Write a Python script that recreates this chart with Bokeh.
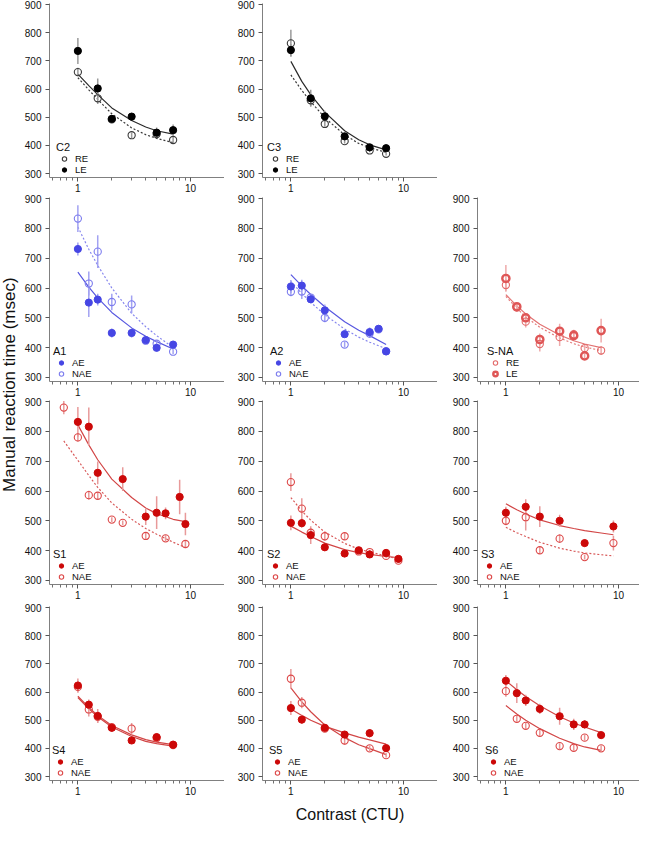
import math
from bokeh.plotting import figure
from bokeh.models import Range1d, FixedTicker, Legend, LegendItem, PrintfTickFormatter
from bokeh.layouts import row, column
from bokeh.embed import file_html
from bokeh.resources import INLINE
from bokeh.core.properties import value

FONT = "Liberation Sans"

# ---------------- data ----------------
FIT_X = [1, 1.25, 1.5, 2, 3, 4, 5, 7]
FIT_X9 = [1, 1.25, 1.5, 2, 3, 4, 5, 7, 9]

C2_X = [1, 1.5, 2, 3, 5, 7]
C2_RE = [660, 567, 492, 436, 440, 419]
C2_RE_ERR = [15, 20, 8, 10, 10, 12]
C2_LE = [735, 602, 494, 502, 445, 454]
C2_LE_ERR = [46, 35, 12, 10, 18, 20]
C2_RE_FIT = [640, 597, 563, 512, 462, 438, 425, 410]
C2_LE_FIT = [653, 612, 580, 533, 488, 465, 452, 440]

C3_X = [1, 1.5, 2, 3, 5, 7]
C3_RE = [762, 560, 476, 415, 382, 370]
C3_RE_ERR = [48, 20, 10, 8, 6, 6]
C3_LE = [738, 567, 503, 432, 393, 390]
C3_LE_ERR = [22, 30, 20, 10, 8, 8]
C3_RE_FIT = [650, 595, 555, 498, 437, 407, 392, 375]
C3_LE_FIT = [698, 627, 580, 518, 452, 420, 402, 384]

A1_X = [1, 1.25, 1.5, 2, 3, 4, 5, 7]
A1_AE = [731, 551, 561, 449, 449, 425, 399, 410]
A1_AE_ERR = [22, 48, 20, 15, 15, 10, 10, 10]
A1_NAE = [833, 615, 722, 553, 545, 423, 413, 386]
A1_NAE_ERR = [45, 40, 55, 28, 30, 8, 8, 8]
A1_AE_FIT = [653, 603, 567, 518, 466, 438, 420, 395]
A1_NAE_FIT = [805, 730, 676, 600, 515, 470, 440, 400]

A2_X = [1, 1.25, 1.5, 2, 3, 5, 6, 7]
A2_AE = [605, 608, 562, 525, 445, 452, 463, 387]
A2_AE_ERR = [22, 20, 12, 20, 10, 15, 8, 8]
A2_NAE = [587, 588, 568, 500, 410, 447, 461, 388]
A2_NAE_ERR = [15, 25, 10, 15, 10, 15, 8, 8]
A2_AE_FIT = [645, 607, 578, 537, 487, 458, 440, 410]
A2_NAE_FIT = [622, 582, 552, 510, 462, 435, 418, 396]

SNA_X = [1, 1.25, 1.5, 2, 3, 4, 5, 7]
SNA_RE = [610, 535, 487, 412, 435, 445, 398, 390]
SNA_RE_ERR = [20, 15, 20, 25, 30, 15, 12, 15]
SNA_LE = [632, 537, 500, 427, 455, 440, 372, 457]
SNA_LE_ERR = [45, 12, 15, 20, 25, 12, 8, 40]
SNA_RE_FIT = [572, 532, 503, 468, 432, 413, 402, 390]
SNA_LE_FIT = [578, 540, 513, 478, 442, 423, 412, 400]

S1_AE_X = [1, 1.25, 1.5, 2.5, 4, 5, 6, 8, 9]
S1_AE = [832, 816, 661, 640, 514, 527, 525, 580, 489]
S1_AE_ERR = [50, 64, 38, 40, 28, 55, 20, 58, 38]
S1_NAE_X = [0.75, 1, 1.25, 1.5, 2, 2.5, 4, 6, 9]
S1_NAE = [880, 780, 586, 584, 504, 493, 449, 441, 422]
S1_NAE_ERR = [22, 15, 15, 12, 8, 8, 12, 10, 12]
S1_NAE_FIT_X = [0.75, 1, 1.25, 1.5, 2, 3, 4, 5, 7, 9]
S1_AE_FIT = [822, 755, 705, 640, 578, 543, 524, 505, 497]
S1_NAE_FIT = [768, 703, 652, 612, 560, 505, 474, 455, 428, 410]

S2_X = [1, 1.25, 1.5, 2, 3, 4, 5, 7, 9]
S2_AE = [493, 492, 452, 411, 390, 401, 387, 392, 372]
S2_AE_ERR = [25, 15, 30, 12, 8, 10, 8, 8, 8]
S2_NAE = [630, 541, 460, 448, 448, 397, 395, 382, 366]
S2_NAE_ERR = [30, 35, 15, 15, 12, 10, 8, 8, 8]
S2_AE_FIT = [482, 462, 447, 425, 403, 393, 387, 380, 376]
S2_NAE_FIT = [578, 533, 502, 462, 424, 405, 395, 382, 372]

S3_X = [1, 1.5, 2, 3, 5, 9]
S3_AE = [527, 547, 514, 500, 425, 481]
S3_AE_ERR = [20, 25, 35, 20, 12, 20]
S3_NAE = [500, 512, 401, 440, 378, 425]
S3_NAE_ERR = [15, 45, 12, 15, 8, 25]
S3_AE_FIT = [557, 537, 523, 503, 484, 474, 467, 459, 453]
S3_NAE_FIT = [478, 460, 447, 428, 408, 398, 392, 386, 382]

S4_X = [1, 1.25, 1.5, 2, 3, 5, 7]
S4_AE = [623, 555, 515, 473, 428, 440, 413]
S4_AE_ERR = [25, 18, 25, 12, 8, 12, 8]
S4_NAE = [618, 538, 512, 475, 470, 437, 412]
S4_NAE_ERR = [20, 25, 20, 10, 20, 10, 8]
S4_AE_FIT = [580, 540, 512, 476, 442, 425, 417, 408]
S4_NAE_FIT = [585, 545, 517, 481, 448, 431, 422, 413]

S5_X = [1, 1.25, 2, 3, 5, 7]
S5_AE = [543, 502, 473, 449, 454, 401]
S5_AE_ERR = [25, 15, 10, 12, 15, 8]
S5_NAE = [647, 562, 470, 428, 400, 376]
S5_NAE_ERR = [35, 20, 10, 15, 10, 8]
S5_AE_FIT = [540, 517, 500, 478, 455, 440, 430, 415]
S5_NAE_FIT = [615, 565, 530, 483, 438, 413, 399, 378]

S6_X = [1, 1.25, 1.5, 2, 3, 4, 5, 7]
S6_AE = [640, 596, 570, 540, 514, 485, 485, 447]
S6_AE_ERR = [20, 35, 20, 18, 30, 20, 15, 8]
S6_NAE = [603, 505, 480, 455, 408, 402, 438, 400]
S6_NAE_ERR = [20, 10, 10, 12, 10, 10, 10, 10]
S6_AE_FIT = [640, 608, 584, 551, 512, 490, 476, 456]
S6_NAE_FIT = [552, 522, 500, 470, 436, 417, 405, 393]

Y_TICKS = [300, 400, 500, 600, 700, 800, 900]
X_TICKS = [1, 10]
X_MINOR = [0.6, 0.7, 0.8, 0.9, 2, 3, 4, 5, 6, 7, 8, 9, 20]

SCHEMES = {
    "black": dict(fill="#000000", open="#3a3a3a", err="#9a9a9a", solid="#2a2a2a", dash="#3a3a3a"),
    "blue": dict(fill="#4646e4", open="#7c7cee", err="#a2a2f2", solid="#5858e0", dash="#8686ee"),
    "pale": dict(fill="#df5656", open="#e36a6a", err="#eeaaaa", solid="#e27272", dash="#e47a7a"),
    "red": dict(fill="#cc0808", open="#dd4848", err="#e89a9a", solid="#d24646", dash="#d85a5a"),
}

# (label, x, y, err, marker style, fit x, fit y, fit style)
PANELS = [
    dict(name="C2", r=0, c=0, scheme="black", ldx=6.7, series=[
        ("RE", C2_X, C2_RE, C2_RE_ERR, "open", FIT_X, C2_RE_FIT, "dash"),
        ("LE", C2_X, C2_LE, C2_LE_ERR, "fill", FIT_X, C2_LE_FIT, "solid")]),
    dict(name="C3", r=0, c=1, scheme="black", ldx=5, series=[
        ("RE", C3_X, C3_RE, C3_RE_ERR, "open", FIT_X, C3_RE_FIT, "dash"),
        ("LE", C3_X, C3_LE, C3_LE_ERR, "fill", FIT_X, C3_LE_FIT, "solid")]),
    dict(name="A1", r=1, c=0, scheme="blue", ldx=4, series=[
        ("AE", A1_X, A1_AE, A1_AE_ERR, "fill", FIT_X, A1_AE_FIT, "solid"),
        ("NAE", A1_X, A1_NAE, A1_NAE_ERR, "open", FIT_X, A1_NAE_FIT, "dash")]),
    dict(name="A2", r=1, c=1, scheme="blue", ldx=7.7, series=[
        ("AE", A2_X, A2_AE, A2_AE_ERR, "fill", FIT_X, A2_AE_FIT, "solid"),
        ("NAE", A2_X, A2_NAE, A2_NAE_ERR, "open", FIT_X, A2_NAE_FIT, "dash")]),
    dict(name="S-NA", r=1, c=2, scheme="pale", ldx=10, series=[
        ("RE", SNA_X, SNA_RE, SNA_RE_ERR, "open", FIT_X, SNA_RE_FIT, "dash"),
        ("LE", SNA_X, SNA_LE, SNA_LE_ERR, "ring", FIT_X, SNA_LE_FIT, "solid")]),
    dict(name="S1", r=2, c=0, scheme="red", ldx=4, series=[
        ("AE", S1_AE_X, S1_AE, S1_AE_ERR, "fill", FIT_X9, S1_AE_FIT, "solid"),
        ("NAE", S1_NAE_X, S1_NAE, S1_NAE_ERR, "open", S1_NAE_FIT_X, S1_NAE_FIT, "dash")]),
    dict(name="S2", r=2, c=1, scheme="red", ldx=5, series=[
        ("AE", S2_X, S2_AE, S2_AE_ERR, "fill", FIT_X9, S2_AE_FIT, "solid"),
        ("NAE", S2_X, S2_NAE, S2_NAE_ERR, "open", FIT_X9, S2_NAE_FIT, "dash")]),
    dict(name="S3", r=2, c=2, scheme="red", ldx=3.7, series=[
        ("AE", S3_X, S3_AE, S3_AE_ERR, "fill", FIT_X9, S3_AE_FIT, "solid"),
        ("NAE", S3_X, S3_NAE, S3_NAE_ERR, "open", FIT_X9, S3_NAE_FIT, "dash")]),
    dict(name="S4", r=3, c=0, scheme="red", ldx=3.3, series=[
        ("AE", S4_X, S4_AE, S4_AE_ERR, "fill", FIT_X, S4_AE_FIT, "solid"),
        ("NAE", S4_X, S4_NAE, S4_NAE_ERR, "open", FIT_X, S4_NAE_FIT, "solid")]),
    dict(name="S5", r=3, c=1, scheme="red", ldx=6.7, series=[
        ("AE", S5_X, S5_AE, S5_AE_ERR, "fill", FIT_X, S5_AE_FIT, "solid"),
        ("NAE", S5_X, S5_NAE, S5_NAE_ERR, "open", FIT_X, S5_NAE_FIT, "solid")]),
    dict(name="S6", r=3, c=2, scheme="red", ldx=7.7, series=[
        ("AE", S6_X, S6_AE, S6_AE_ERR, "fill", FIT_X, S6_AE_FIT, "solid"),
        ("NAE", S6_X, S6_NAE, S6_NAE_ERR, "open", FIT_X, S6_NAE_FIT, "solid")]),
]

# ---------------- layout geometry ----------------
K = 0.98
REF_900 = [4.7, 202.7, 409.7, 619.0]
REF_300 = [177.7, 385.0, 592.3, 792.0]
Y0, Y1 = 286, 914
X0, X1 = 0.56, 20.0
TOPS, FRAMES = [], []
for a, b in zip(REF_900, REF_300):
    s = (b - a) * K / 600.0
    TOPS.append(round(8 + a * K - (Y1 - 900) * s))
    FRAMES.append(round((Y1 - Y0) * s))
TOPS[0] = 8
BOTTOMS = [22, 22, 22, 45]
HEIGHTS = [f + b for f, b in zip(FRAMES, BOTTOMS)]

FRAME_W = 175
COL_LEFT = [29, 38, 40]
COL_FRAME = [175, 175, 162]
DEC = FRAME_W / math.log10(X1 / X0)
COL_XEND = [X1, X1, 10 ** (math.log10(X0) + COL_FRAME[2] / DEC)]
LEG_Y = 2


def make_fig(r, c):
    p = figure(width=COL_LEFT[c] + COL_FRAME[c], height=HEIGHTS[r],
               x_axis_type="log", x_range=Range1d(X0, COL_XEND[c]), y_range=Range1d(Y0, Y1),
               output_backend="svg", toolbar_location=None,
               min_border_left=COL_LEFT[c], min_border_right=0,
               min_border_top=0, min_border_bottom=BOTTOMS[r])
    p.grid.visible = False
    p.outline_line_color = None
    p.background_fill_color = "white"
    p.border_fill_color = "white"
    for ax in (p.xaxis[0], p.yaxis[0]):
        ax.axis_line_color = "#808080"
        ax.major_tick_line_color = "#555555"
        ax.minor_tick_line_color = "#707070"
        ax.major_tick_in = 0
        ax.major_tick_out = 4
        ax.minor_tick_in = 0
        ax.major_label_text_font = FONT
        ax.major_label_text_font_size = "10px"
        ax.major_label_text_color = "#111111"
    p.yaxis.ticker = FixedTicker(ticks=Y_TICKS, minor_ticks=[])
    p.yaxis.bounds = (Y0, 904)
    p.yaxis.major_label_standoff = 4
    p.xaxis.ticker = FixedTicker(ticks=X_TICKS, minor_ticks=X_MINOR)
    p.xaxis.formatter = PrintfTickFormatter(format="%d")
    p.xaxis.minor_tick_out = 3
    p.xaxis.major_label_standoff = 2
    return p


def draw(p, spec):
    sc = SCHEMES[spec["scheme"]]
    for (lab, xs, ys, es, mk, fx, fy, fs) in spec["series"]:
        if fs == "solid":
            p.line(fx, fy, line_color=sc["solid"], line_width=1.2)
        else:
            p.line(fx, fy, line_color=sc["dash"], line_width=1.2, line_dash="2 2")
    for (lab, xs, ys, es, mk, fx, fy, fs) in spec["series"]:
        lo = [y - e for y, e in zip(ys, es)]
        hi = [y + e for y, e in zip(ys, es)]
        p.segment(x0=xs, y0=lo, x1=xs, y1=hi, line_color=sc["err"], line_width=1.5)
    rend = {}
    for (lab, xs, ys, es, mk, fx, fy, fs) in sorted(spec["series"], key=lambda s: s[4] == "fill"):
        if mk == "fill":
            rend[lab] = p.scatter(xs, ys, marker="circle", size=7.2, fill_color=sc["fill"],
                                  line_color=sc["fill"], line_width=1)
        elif mk == "ring":
            rend[lab] = p.scatter(xs, ys, marker="circle", size=7.2, fill_color=None,
                                  line_color=sc["fill"], line_width=2.4)
        else:
            rend[lab] = p.scatter(xs, ys, marker="circle", size=7.2, fill_color=None,
                                  line_color=sc["open"], line_width=1.1)
    items = [LegendItem(label=s[0], renderers=[rend[s[0]]]) for s in spec["series"]]
    leg = Legend(items=items, location=(round(spec["ldx"]), LEG_Y), title=spec["name"],
                 title_text_font=FONT, title_text_font_size="11px", title_text_font_style="normal",
                 title_text_color="#111111",
                 title_standoff=-4, label_text_font=FONT, label_text_font_size="9.5px",
                 label_text_color="#111111",
                 glyph_width=16, glyph_height=11, label_height=11, label_standoff=3,
                 spacing=-1, padding=0, margin=0, background_fill_alpha=0,
                 border_line_color=None)
    p.add_layout(leg)


grid_rows = [[], [], [], []]
for spec in PANELS:
    p = make_fig(spec["r"], spec["c"])
    draw(p, spec)
    if spec["r"] == 3 and spec["c"] == 1:
        p.xaxis.axis_label = "Contrast (CTU)"
        p.xaxis.axis_label_text_font = FONT
        p.xaxis.axis_label_text_font_size = "16px"
        p.xaxis.axis_label_text_font_style = "normal"
        p.xaxis.axis_label_text_color = "#111111"
        p.xaxis.axis_label_standoff = 8
    grid_rows[spec["r"]].append(p)

row_objs = []
for i, figs in enumerate(grid_rows):
    r = row(*figs)
    if i > 0:
        m = TOPS[i] - (TOPS[i - 1] + HEIGHTS[i - 1])
        r.margin = (m, 0, 0, 0)
    row_objs.append(r)
grid = column(*row_objs)

TOTAL_H = TOPS[3] + HEIGHTS[3] - 8
YLAB_W = 20
ylab = figure(width=YLAB_W, height=TOTAL_H, x_range=Range1d(0, YLAB_W), y_range=Range1d(0, TOTAL_H),
              x_axis_type=None, y_axis_type=None, output_backend="svg", toolbar_location=None,
              min_border=0, outline_line_color=None)
ylab.grid.visible = False
ylab.text(x=[9], y=[TOTAL_H - (8 + 392 * K - 8)], text=["Manual reaction time (msec)"],
          angle=math.pi / 2, text_align="center", text_baseline="middle",
          text_font=value(FONT), text_font_size="17px", text_color="#111111")

page = row(ylab, grid)
open("out.html", "w").write(file_html(page, INLINE))
